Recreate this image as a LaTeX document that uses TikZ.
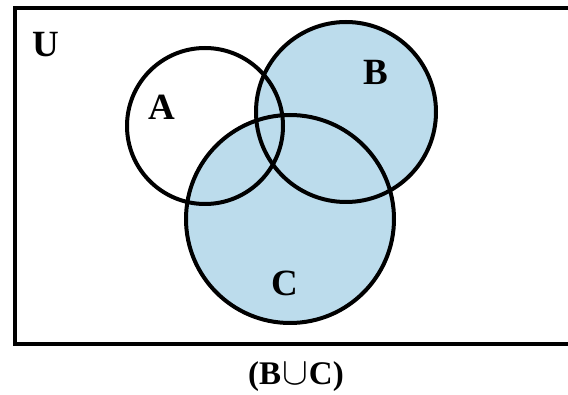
\documentclass[tikz,border=0pt]{standalone}
\usepackage{fontspec}
\setmainfont{Liberation Serif}
\definecolor{setblue}{RGB}{188,220,236}
\begin{document}
\begin{tikzpicture}[x=1pt,y=-1pt,
  setline/.style={line width=4pt},
  setcircle/.style={circle,inner sep=0pt,outer sep=0pt},
  lbl/.style={anchor=base,font=\fontsize{37}{40}\selectfont\bfseries,inner sep=0pt}]
\useasboundingbox (0,0) rectangle (568,395);
% universe box (right side runs off the picture)
\draw[setline] (575,8) -- (14.5,8) -- (14.5,344) -- (575,344);
% fills of B and C
\fill[setblue] (346,112) circle (90);
\fill[setblue] (290,219) circle (104);
% circle outlines
\node[setcircle,minimum size=156pt,draw,setline] (A) at (205,126) {};
\node[setcircle,minimum size=180pt,draw,setline] (B) at (346,112) {};
\node[setcircle,minimum size=208pt,draw,setline] (C) at (290,219) {};
% labels
\node[lbl] (U) at (46,57) {U};
\node[lbl] (la) at (162,120) {A};
\node[lbl] (lb) at (376,85) {B};
\node[lbl] (lc) at (285,296) {C};
\node[anchor=base,inner sep=0pt,font=\fontsize{33}{36}\selectfont\bfseries] (cap) at (296,385) {(B\kern1pt\scalebox{1.55}{$\cup$}\kern1pt C)};
\end{tikzpicture}
\end{document}
